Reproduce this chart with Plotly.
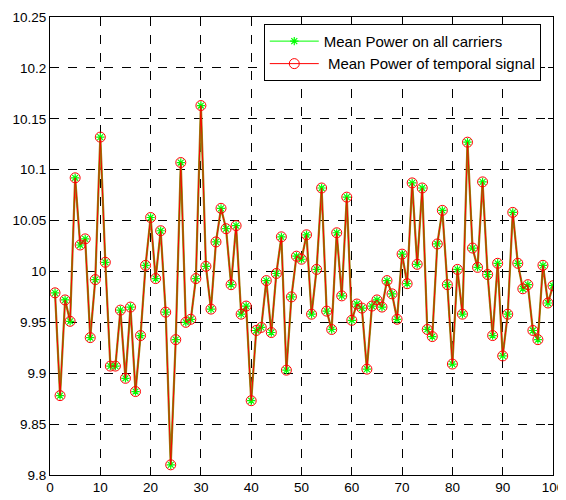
import plotly.graph_objects as go

x_index = list(range(1, 101))
mean_power_carriers = [
    9.979, 9.878, 9.972, 9.951, 10.092, 10.026, 10.032, 9.935, 9.992, 10.132,
    10.009, 9.907, 9.907, 9.962, 9.895, 9.965, 9.882, 9.937, 10.006, 10.053,
    9.993, 10.040, 9.960, 9.810, 9.933, 10.107, 9.950, 9.953, 9.993, 10.163,
    10.005, 9.963, 10.029, 10.062, 10.042, 9.987, 10.045, 9.958, 9.966, 9.873,
    9.942, 9.945, 9.991, 9.940, 9.998, 10.034, 9.903, 9.975, 10.015, 10.012,
    10.036, 9.958, 10.002, 10.082, 9.961, 9.943, 10.038, 9.976, 10.073, 9.952,
    9.968, 9.964, 9.904, 9.966, 9.972, 9.965, 9.991, 9.978, 9.953, 10.017,
    9.988, 10.087, 10.007, 10.082, 9.943, 9.936, 10.027, 10.060, 9.987, 9.909,
    10.002, 9.958, 10.127, 10.023, 10.004, 10.088, 9.997, 9.937, 10.008, 9.917,
    9.958, 10.058, 10.008, 9.983, 9.987, 9.942, 9.933, 10.006, 9.969, 9.986,
]
mean_power_temporal = list(mean_power_carriers)

x_ticks = [0, 10, 20, 30, 40, 50, 60, 70, 80, 90, 100]
y_ticks = [9.8, 9.85, 9.9, 9.95, 10.0, 10.05, 10.1, 10.15, 10.2, 10.25]
y_tick_labels = ["9.8", "9.85", "9.9", "9.95", "10", "10.05", "10.1", "10.15", "10.2", "10.25"]

FONT = "Liberation Sans, Arial, Helvetica, sans-serif"

fig = go.Figure()
# blended underlay (green + red lines overlapping give a brownish edge)
fig.add_trace(go.Scatter(
    x=x_index, y=mean_power_carriers, mode="lines",
    line=dict(color="#a8841c", width=2.2), showlegend=False, hoverinfo="skip",
))
fig.add_trace(go.Scatter(
    x=x_index, y=mean_power_carriers, mode="lines+markers",
    name="Mean Power on all carriers", legendgroup="a",
    line=dict(color="#00ff00", width=1),
    marker=dict(symbol="asterisk-open", size=7, color="#00ff00",
                line=dict(color="#00ff00", width=1.2)),
))
fig.add_trace(go.Scatter(
    x=x_index, y=mean_power_temporal, mode="lines+markers",
    name=" Mean Power of temporal signal", legendgroup="b",
    line=dict(color="#ff0000", width=1),
    marker=dict(symbol="circle-open", size=10, color="#ff0000",
                line=dict(color="#ff0000", width=1)),
))

axis_common = dict(
    showline=True, linecolor="black", linewidth=1, mirror="ticks",
    ticks="inside", ticklen=5, tickcolor="black",
    showgrid=True, gridcolor="black", gridwidth=1, griddash="dash",
    zeroline=False, tickfont=dict(size=13.5, color="black", family=FONT), automargin=False,
)

# page body has an 8px default margin: figure is sized to fill the rest of the window
fig.update_layout(
    width=558, height=492,
    margin=dict(l=42, r=13, t=9, b=25),
    paper_bgcolor="white", plot_bgcolor="white",
    font=dict(family=FONT, color="black"),
    xaxis=dict(range=[0, 100], tickvals=x_ticks, **axis_common),
    yaxis=dict(range=[9.8, 10.25], tickvals=y_ticks, ticktext=y_tick_labels, **axis_common),
    legend=dict(x=0.425, y=0.985, xanchor="left", yanchor="top",
                bgcolor="white", bordercolor="black", borderwidth=1,
                font=dict(size=15, color="black", family=FONT), tracegroupgap=8,
                itemwidth=49, traceorder="normal"),
    showlegend=True,
)

fig.write_html("out.html")
